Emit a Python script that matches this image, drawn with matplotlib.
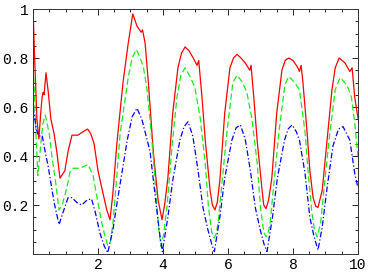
import matplotlib
matplotlib.use('Agg')
import matplotlib.pyplot as plt
from matplotlib.ticker import MultipleLocator, FixedLocator

# red (solid) curve
red_x = [0.00, 0.05, 0.12, 0.18, 0.24, 0.28, 0.31, 0.34, 0.40, 0.47, 0.55, 0.65, 0.73, 0.83,
         0.98, 1.08, 1.20, 1.38, 1.55, 1.68, 1.78, 1.88, 2.00, 2.15, 2.27, 2.37,
         2.46, 2.58, 2.77, 2.93, 3.07, 3.20, 3.33, 3.37, 3.45, 3.55, 3.70, 3.85, 3.97,
         4.05, 4.15, 4.30, 4.46, 4.57, 4.68, 4.80, 4.93, 5.05, 5.10, 5.20, 5.30, 5.45, 5.52, 5.60,
         5.67, 5.75, 5.90, 6.06, 6.17, 6.28, 6.40, 6.53, 6.67, 6.71, 6.80, 6.90, 7.05, 7.10, 7.17,
         7.25, 7.35, 7.50, 7.66, 7.76, 7.87, 8.00, 8.13, 8.20, 8.25, 8.30, 8.43, 8.52, 8.62, 8.70, 8.77,
         8.90, 9.05, 9.20, 9.30, 9.42, 9.60, 9.75, 9.82, 9.90, 10.0]
red_y = [1.00, 0.80, 0.55, 0.47, 0.58, 0.64, 0.66, 0.65, 0.74, 0.66, 0.55, 0.49, 0.42, 0.31,
         0.34, 0.42, 0.485, 0.485, 0.50, 0.51, 0.49, 0.45, 0.34, 0.25, 0.18, 0.14,
         0.25, 0.45, 0.70, 0.86, 0.98, 0.93, 0.905, 0.915, 0.86, 0.70, 0.42, 0.22, 0.14,
         0.20, 0.31, 0.575, 0.76, 0.82, 0.845, 0.83, 0.80, 0.77, 0.79, 0.64, 0.465, 0.26, 0.20, 0.18,
         0.21, 0.30, 0.575, 0.76, 0.80, 0.815, 0.80, 0.78, 0.75, 0.77, 0.63, 0.46, 0.26, 0.20, 0.185,
         0.22, 0.31, 0.575, 0.75, 0.79, 0.80, 0.79, 0.765, 0.745, 0.77, 0.71, 0.505, 0.34, 0.23, 0.195, 0.19,
         0.26, 0.465, 0.67, 0.76, 0.80, 0.78, 0.745, 0.76, 0.64, 0.555]

# green (dashed) curve
green_x = [0.00, 0.03, 0.08, 0.15, 0.22, 0.30, 0.38, 0.50, 0.60, 0.70, 0.80, 0.90, 1.04, 1.14,
           1.23, 1.45, 1.60, 1.70, 1.85, 1.97, 2.12, 2.22, 2.30, 2.38, 2.46, 2.60, 2.68,
           2.93, 3.05, 3.18, 3.30, 3.40, 3.50, 3.60, 3.70, 3.80, 3.87, 3.94,
           4.02, 4.12, 4.28, 4.43, 4.55, 4.68, 4.85, 4.98, 5.14, 5.30, 5.40, 5.50, 5.57,
           5.63, 5.70, 5.80, 5.97, 6.15, 6.28, 6.45, 6.58, 6.74, 6.90, 7.00, 7.10, 7.17,
           7.23, 7.30, 7.40, 7.57, 7.75, 7.87, 8.05, 8.20, 8.37, 8.47, 8.58, 8.66, 8.74,
           8.85, 8.98, 9.14, 9.30, 9.45, 9.66, 9.80, 9.90, 10.0]
green_y = [0.80, 0.70, 0.52, 0.32, 0.42, 0.53, 0.567, 0.49, 0.38, 0.29, 0.18, 0.20, 0.27, 0.335,
           0.35, 0.35, 0.36, 0.365, 0.32, 0.23, 0.125, 0.07, 0.035, 0.05, 0.125, 0.355, 0.49,
           0.72, 0.80, 0.835, 0.80, 0.76, 0.68, 0.55, 0.40, 0.22, 0.10, 0.03,
           0.08, 0.19, 0.44, 0.64, 0.73, 0.76, 0.72, 0.68, 0.56, 0.37, 0.19, 0.09, 0.065,
           0.08, 0.13, 0.27, 0.50, 0.70, 0.73, 0.70, 0.66, 0.55, 0.37, 0.19, 0.09, 0.07,
           0.08, 0.13, 0.27, 0.50, 0.69, 0.725, 0.70, 0.67, 0.50, 0.33, 0.17, 0.10, 0.07,
           0.125, 0.30, 0.50, 0.67, 0.72, 0.69, 0.64, 0.535, 0.40]

# blue (dash-dot) curve
blue_x = [0.00, 0.05, 0.10, 0.18, 0.28, 0.37, 0.47, 0.55, 0.65, 0.80, 0.95, 1.08, 1.20, 1.35,
          1.50, 1.66, 1.80, 1.90, 2.06, 2.20, 2.30, 2.46, 2.60, 2.90, 3.05, 3.20, 3.35,
          3.60, 3.80, 3.90, 3.98, 4.15, 4.30, 4.52, 4.65, 4.77, 4.92, 5.08, 5.23, 5.38, 5.50, 5.58,
          5.75, 5.90, 6.12, 6.25, 6.38, 6.53, 6.69, 6.84, 6.99, 7.11, 7.20,
          7.37, 7.52, 7.74, 7.85, 7.97, 8.10, 8.20, 8.37, 8.52, 8.65, 8.77,
          8.90, 9.05, 9.23, 9.40, 9.54, 9.75, 9.90, 10.0]
blue_y = [0.60, 0.56, 0.51, 0.48, 0.485, 0.42, 0.355, 0.29, 0.21, 0.12, 0.18, 0.23, 0.23, 0.21,
          0.20, 0.22, 0.225, 0.18, 0.085, 0.03, 0.005, 0.10, 0.22, 0.465, 0.56, 0.595, 0.55,
          0.42, 0.19, 0.08, 0.01, 0.15, 0.30, 0.465, 0.52, 0.54, 0.48, 0.34, 0.19, 0.10, 0.04, 0.01,
          0.15, 0.31, 0.465, 0.515, 0.527, 0.47, 0.34, 0.19, 0.10, 0.04, 0.01,
          0.15, 0.31, 0.465, 0.51, 0.527, 0.50, 0.465, 0.33, 0.15, 0.07, 0.016,
          0.11, 0.27, 0.44, 0.51, 0.52, 0.465, 0.33, 0.27]

x_ticks = [2, 4, 6, 8, 10]
x_labels = ['2', '4', '6', '8', '10']
y_ticks = [0.2, 0.4, 0.6, 0.8, 1.0]
y_labels = ['0.2', '0.4', '0.6', '0.8', '1']

fig = plt.figure(figsize=(3.68, 2.77), dpi=100)
ax = fig.add_axes([0.0897, 0.083, 0.883, 0.8845])

ax.plot(red_x, red_y, color='#ff0000', lw=0.9, solid_joinstyle='round')
ax.plot(green_x, green_y, color='#1ee81e', lw=0.9, linestyle=(0, (5, 2.5)))
ax.plot(blue_x, blue_y, color='#0000ff', lw=0.9, linestyle=(0, (4.5, 1.8, 1, 1.8)))

ax.set_xlim(0, 10)
ax.set_ylim(0, 1)

ax.xaxis.set_major_locator(FixedLocator(x_ticks))
ax.set_xticklabels(x_labels)
ax.yaxis.set_major_locator(FixedLocator(y_ticks))
ax.set_yticklabels(y_labels)
ax.xaxis.set_minor_locator(MultipleLocator(0.5))
ax.yaxis.set_minor_locator(MultipleLocator(0.05))

ax.tick_params(which='both', direction='in', top=True, right=True, width=0.6,
               labelsize=10.5, pad=3)
ax.tick_params(which='major', length=4)
ax.tick_params(which='minor', length=2)
for lab in ax.get_xticklabels() + ax.get_yticklabels():
    lab.set_family('Liberation Mono')
for s in ax.spines.values():
    s.set_linewidth(0.7)
    s.set_color('#333333')

fig.savefig('out.png', dpi=100)
